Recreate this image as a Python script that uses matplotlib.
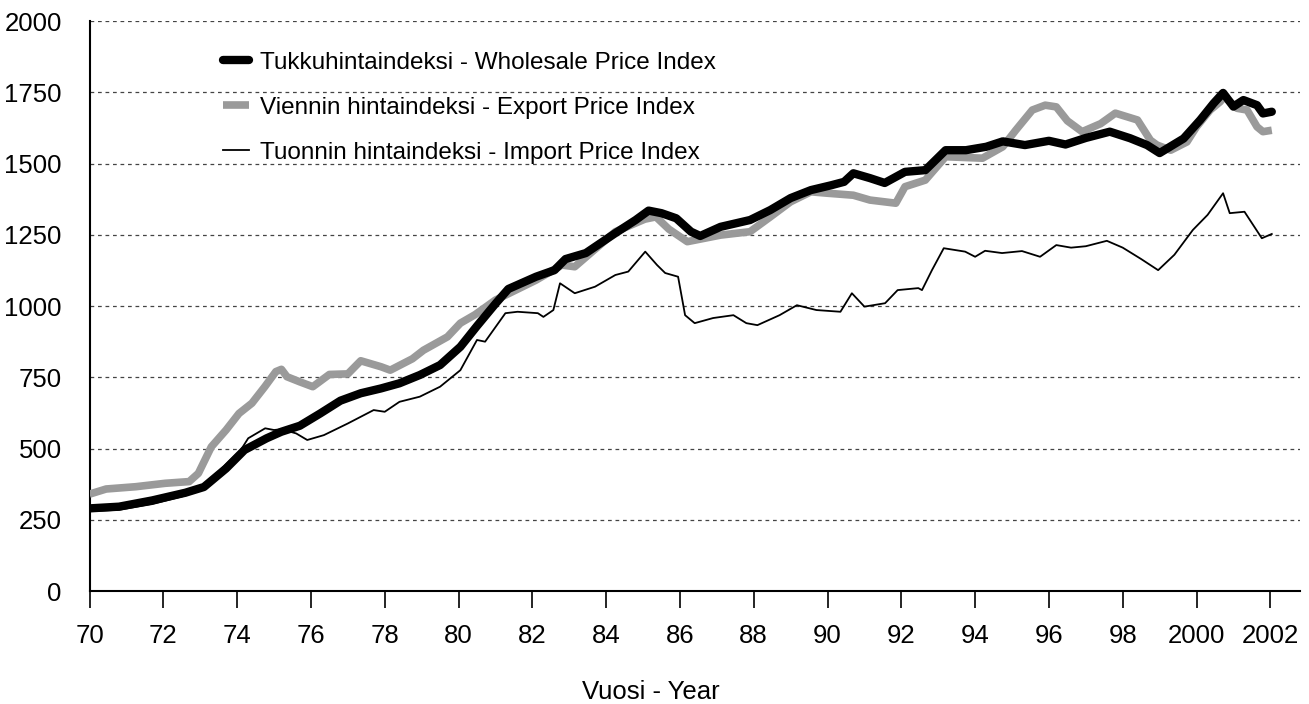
import matplotlib
matplotlib.use("Agg")
import matplotlib.pyplot as plt
from matplotlib import font_manager as fm

# ---------------- data ----------------
wh_years = [1970.0, 1970.8, 1971.7, 1972.6, 1973.1, 1973.7, 1974.2, 1974.8, 1975.2, 1975.7,
            1976.25, 1976.8, 1977.35, 1977.9, 1978.4, 1978.95, 1979.5, 1980.05, 1980.5, 1981.0,
            1981.35, 1982.1, 1982.6, 1982.9, 1983.45, 1984.25, 1984.8, 1985.15, 1985.5, 1985.9,
            1986.3, 1986.55, 1987.1, 1987.9, 1988.45, 1989.0, 1989.55, 1990.1, 1990.45, 1990.7,
            1991.15, 1991.55, 1992.1, 1992.65, 1993.2, 1993.75, 1994.3, 1994.75, 1995.35, 1996.0,
            1996.45, 1997.0, 1997.65, 1998.2, 1998.66, 1999.0, 1999.65, 2000.1, 2000.46, 2000.72,
            2001.0, 2001.27, 2001.64, 2001.8, 2002.04]
wholesale = [290, 296, 318, 345, 365, 430, 495, 536, 559, 580,
             623, 668, 694, 711, 729, 758, 793, 857, 930, 1008,
             1060, 1103, 1126, 1165, 1186, 1256, 1302, 1335, 1326, 1308,
             1261, 1246, 1278, 1302, 1337, 1379, 1407, 1424, 1436, 1466,
             1449, 1432, 1471, 1477, 1547, 1547, 1559, 1578, 1565, 1580,
             1567, 1590, 1612, 1589, 1565, 1537, 1588, 1653, 1711, 1748,
             1700, 1723, 1705, 1676, 1682]

ex_years = [1970.0, 1970.45, 1971.25, 1972.05, 1972.7, 1972.95, 1973.3, 1973.7, 1974.05, 1974.4,
            1974.75, 1975.05, 1975.2, 1975.35, 1975.7, 1976.05, 1976.5, 1977.0, 1977.35, 1977.9,
            1978.15, 1978.75, 1979.05, 1979.7, 1980.05, 1980.45, 1981.0, 1982.1, 1982.8, 1983.15,
            1984.25, 1985.05, 1985.35, 1985.7, 1986.2, 1987.1, 1987.9, 1988.45, 1989.0, 1989.55,
            1990.0, 1990.7, 1991.15, 1991.85, 1992.1, 1992.65, 1993.2, 1994.2, 1994.75, 1995.1,
            1995.55, 1995.9, 1996.2, 1996.5, 1996.9, 1997.4, 1997.8, 1998.4, 1998.75, 1998.93,
            1999.3, 1999.74, 2000.0, 2000.37, 2000.64, 2000.75, 2001.1, 2001.37, 2001.64, 2001.8,
            2002.04]
export = [340, 358, 366, 378, 384, 413, 506, 565, 623, 659,
          717, 770, 778, 752, 734, 717, 760, 762, 808, 787,
          775, 815, 845, 892, 940, 970, 1021, 1091, 1144, 1138,
          1261, 1305, 1313, 1270, 1226, 1249, 1261, 1313, 1366, 1401,
          1396, 1389, 1372, 1361, 1419, 1442, 1524, 1519, 1559, 1617,
          1688, 1705, 1699, 1650, 1612, 1640, 1677, 1653, 1582, 1565,
          1547, 1576, 1629, 1688, 1717, 1735, 1694, 1688, 1629, 1612,
          1617]

im_years = [1970.0, 1970.8, 1971.7, 1972.6, 1972.9, 1973.5, 1974.1, 1974.3, 1974.76, 1975.0,
            1975.2, 1975.6, 1975.9, 1976.35, 1977.0, 1977.7, 1978.0, 1978.4, 1978.95, 1979.5,
            1980.05, 1980.5, 1980.72, 1981.27, 1981.6, 1982.15, 1982.3, 1982.57, 1982.75, 1983.15,
            1983.7, 1984.25, 1984.6, 1985.06, 1985.38, 1985.6, 1985.95, 1986.14, 1986.4, 1986.9,
            1987.45, 1987.8, 1988.1, 1988.7, 1989.17, 1989.7, 1990.35, 1990.66, 1991.0, 1991.56,
            1991.9, 1992.46, 1992.56, 1992.83, 1993.15, 1993.73, 1994.0, 1994.27, 1994.73, 1995.27,
            1995.76, 1996.2, 1996.6, 1997.0, 1997.57, 1998.0, 1998.5, 1998.96, 1999.4, 1999.9,
            2000.3, 2000.72, 2000.9, 2001.3, 2001.77, 2002.04]
imports = [280, 285, 305, 335, 354, 420, 495, 536, 571, 565,
           568, 553, 530, 547, 588, 635, 629, 664, 682, 717,
           775, 881, 875, 975, 980, 975, 962, 986, 1080, 1045,
           1068, 1109, 1121, 1191, 1144, 1116, 1103, 968, 940, 958,
           968, 940, 933, 968, 1003, 986, 980, 1045, 998, 1010,
           1056, 1063, 1056, 1126, 1203, 1191, 1173, 1194, 1186, 1193,
           1173, 1214, 1205, 1210, 1229, 1205, 1165, 1126, 1180, 1267,
           1320, 1396, 1326, 1331, 1238, 1253]

x_ticks = list(range(1970, 2003, 2))
x_ticklabels = ["70", "72", "74", "76", "78", "80", "82", "84", "86", "88", "90",
                "92", "94", "96", "98", "2000", "2002"]
y_ticks = [0, 250, 500, 750, 1000, 1250, 1500, 1750, 2000]

labels = ["Tukkuhintaindeksi - Wholesale Price Index",
          "Viennin hintaindeksi - Export Price Index",
          "Tuonnin hintaindeksi - Import Price Index"]

# ---------------- fonts ----------------
avail = {f.name for f in fm.fontManager.ttflist}
base_font = "Liberation Sans" if "Liberation Sans" in avail else "DejaVu Sans"
plt.rcParams["font.family"] = [base_font, "DejaVu Sans"]

# ---------------- figure ----------------
fig = plt.figure(figsize=(13.09, 7.04), dpi=100)
ax = fig.add_axes([0.0684, 0.1605, 0.9246, 0.8095])

ax.plot(ex_years, export, color="#9a9a9a", lw=5.5, solid_capstyle="butt", zorder=3, label=labels[1])
ax.plot(im_years, imports, color="black", lw=1.3, zorder=4, label=labels[2])
ax.plot(wh_years, wholesale, color="black", lw=6.0, solid_capstyle="round", zorder=5, label=labels[0])

ax.set_xlim(1970, 2002.8)
ax.set_ylim(0, 2000)
ax.set_xticks(x_ticks)
ax.set_xticklabels(x_ticklabels)
ax.set_yticks(y_ticks)

ax.tick_params(axis="x", length=12, width=1.2, pad=12, labelsize=18.5, direction="out")
ax.tick_params(axis="y", length=0, pad=20, labelsize=18.5)

for v in y_ticks[1:]:
    ax.axhline(v, color="#444444", lw=0.9, ls=(0, (3, 3)), zorder=1)

for s in ["top", "right"]:
    ax.spines[s].set_visible(False)
for s in ["left", "bottom"]:
    ax.spines[s].set_linewidth(1.5)

h = ax.get_legend_handles_labels()
hd = dict(zip(h[1], h[0]))
leg = ax.legend([hd[l] for l in labels], labels, loc="upper left",
                bbox_to_anchor=(0.092, 0.985), frameon=False, handlelength=1.1,
                handletextpad=0.45, labelspacing=0.95,
                prop={"family": [base_font, "DejaVu Sans"], "size": 17.5})

fig.text(0.497, 0.0, "Vuosi - Year", ha="center", va="bottom", fontsize=18.5)

fig.savefig("out.png", dpi=100)
